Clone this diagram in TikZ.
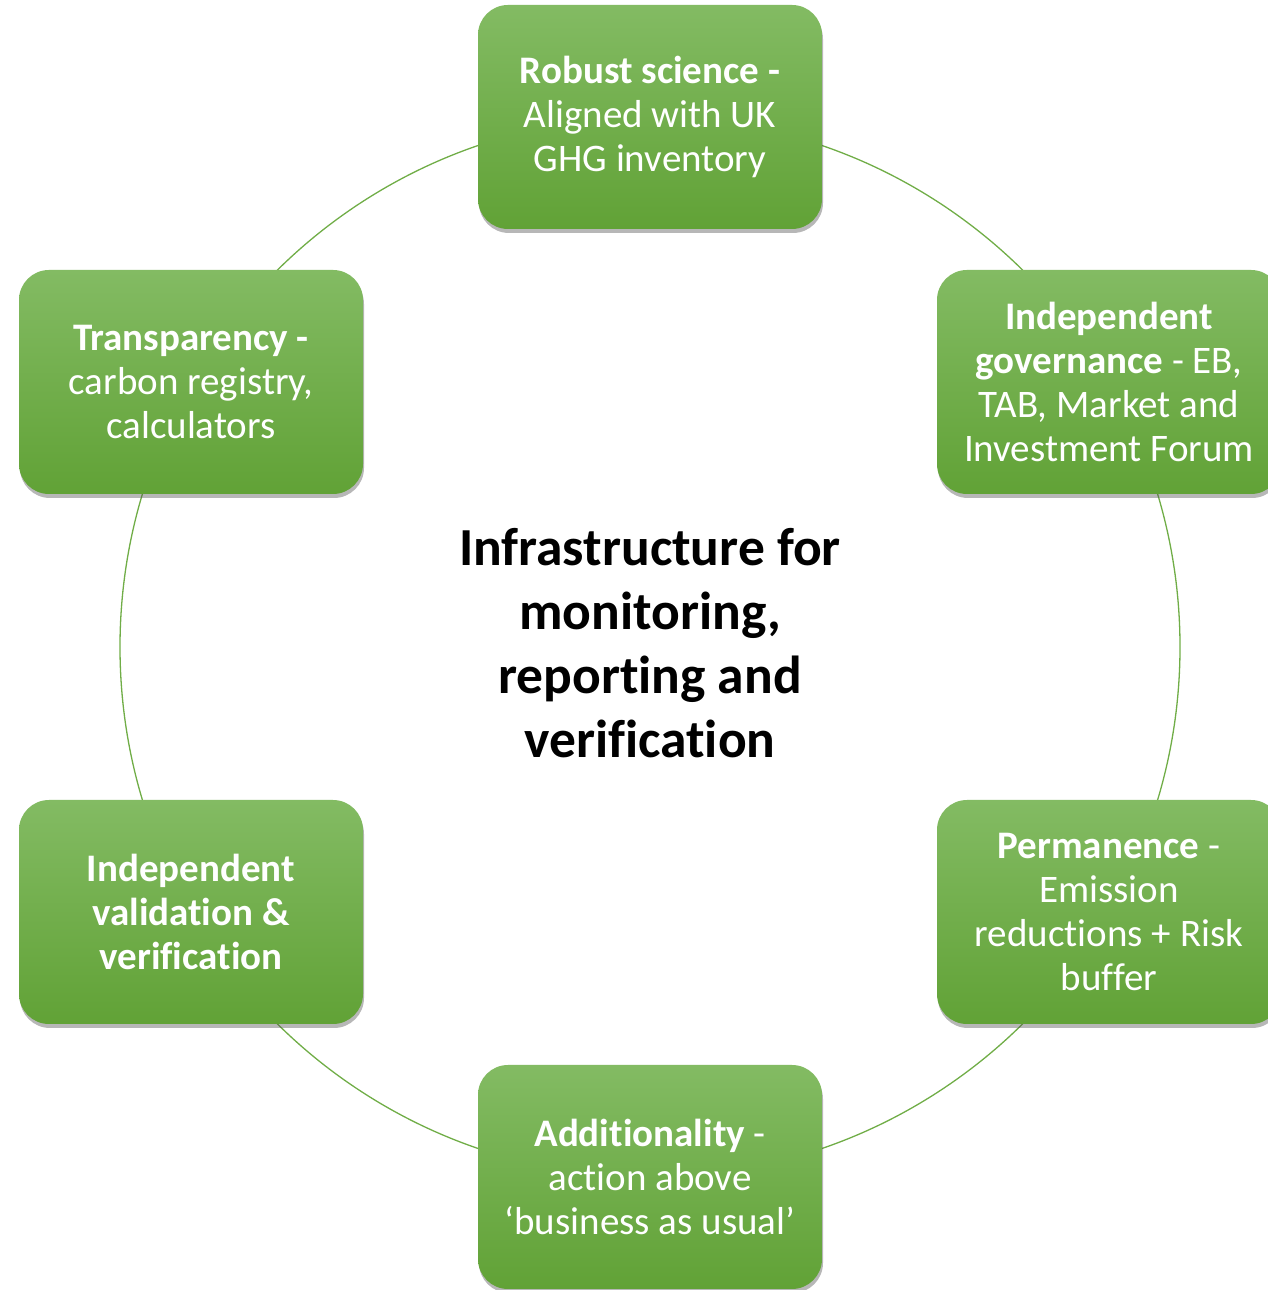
\documentclass[tikz,border=0pt]{standalone}
\usepackage{fontspec}
\setmainfont[Ligatures=NoCommon]{Carlito}
\usetikzlibrary{shadows}
\definecolor{gtop}{RGB}{131,187,99}
\definecolor{gbot}{RGB}{97,162,54}
\definecolor{ring}{RGB}{112,173,71}
\tikzset{
  pillar/.style={rounded corners=30pt, minimum width=344pt, minimum height=224pt,
    top color=gtop, bottom color=gbot, draw=none, text=white, align=center,
    font=\fontsize{39}{44}\selectfont, inner sep=0pt,
    drop shadow={shadow xshift=1pt, shadow yshift=-4pt, opacity=0.4, fill=black!70}},
  hub/.style={align=center, font=\fontsize{53.5}{64}\selectfont\bfseries, text=black}
}
\begin{document}
\begin{tikzpicture}[x=1pt,y=1pt]
\useasboundingbox (0,0) rectangle (1268,1290);
\clip (0,0) rectangle (1268,1290);
\coordinate (c) at (650,643);
\draw[ring, line width=1.3pt] (c) circle[radius=530];
\node[pillar] (top) at (650,1173) {\textbf{Robust science -}\\Aligned with UK\\GHG inventory};
\node[pillar] (ur) at (1109,908) {\textbf{Independent}\\\textbf{governance} - EB,\\TAB, Market and\\Investment Forum};
\node[pillar] (lr) at (1109,378) {\textbf{Permanence} -\\Emission\\reductions + Risk\\buffer};
\node[pillar] (bot) at (650,113) {\textbf{Additionality} -\\action above\\‘business as usual’};
\node[pillar] (ll) at (191,378) {\textbf{Independent}\\\textbf{validation \&}\\\textbf{verification}};
\node[pillar] (ul) at (191,908) {\textbf{Transparency -}\\carbon registry,\\calculators};
\node[hub] (hub) at (650,647) {Infrastructure for\\monitoring,\\reporting and\\verification};
\end{tikzpicture}
\end{document}
